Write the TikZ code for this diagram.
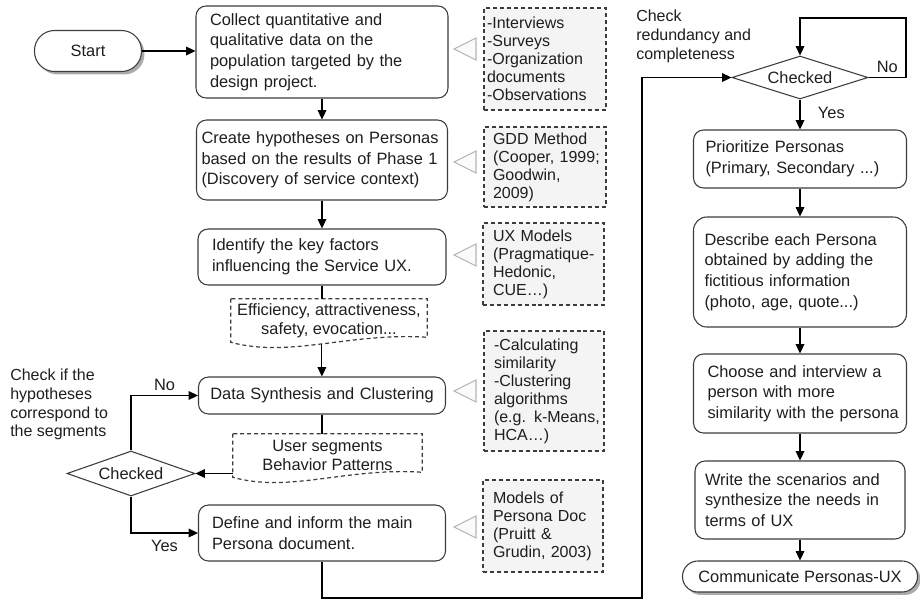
\documentclass[tikz,border=0pt]{standalone}
\usepackage{fontspec}
\setmainfont{Liberation Sans}
\usetikzlibrary{arrows.meta,shapes.geometric,shadows,calc}
\newdimen\pxu \pxu=0.75pt
\definecolor{ink}{HTML}{1E1E1E}
\definecolor{edge}{HTML}{3C3C3C}
\definecolor{notefill}{HTML}{F4F4F4}
\definecolor{tipgrey}{HTML}{B4B4B4}
\definecolor{tipfill}{HTML}{FAFAFA}
\begin{document}
\begin{tikzpicture}[x=0.75pt,y=-0.75pt,
  every node/.style={text=ink},
  mainfont/.style={font=\fontsize{12.3pt}{15.4pt}\selectfont},
  stepbox/.style={mainfont, draw=edge, line width=0.8pt, rounded corners=7.5pt, fill=white, align=left, inner xsep=0pt, inner ysep=2pt},
  notebox/.style={font=\fontsize{12pt}{13.5pt}\selectfont, draw=edge, line width=0.9pt, dash pattern=on 3pt off 2.2pt, fill=notefill, align=left, inner xsep=0pt},
  docnode/.style={font=\fontsize{12.3pt}{14pt}\selectfont, align=center, inner sep=0pt},
  docline/.style={draw=edge, line width=0.9pt, dash pattern=on 3pt off 2.2pt},
  terminal/.style={mainfont, draw=edge, line width=0.8pt, fill=white, drop shadow={shadow xshift=2.2pt, shadow yshift=-2.2pt, fill=black!60, opacity=0.55}},
  decision/.style={mainfont, diamond, draw=edge, line width=0.8pt, aspect=2.8, inner sep=0pt, fill=white},
  flow/.style={draw=black, line width=0.9pt, -{Triangle[length=7pt,width=6.5pt]}},
  link/.style={draw=black, line width=0.9pt},
  pointer/.style={draw=tipgrey, fill=tipfill, line width=0.8pt, line join=miter},
  remark/.style={font=\fontsize{12pt}{14pt}\selectfont, align=left, inner sep=0pt, anchor=north west},
  tag/.style={mainfont, inner sep=3pt},
]
\useasboundingbox (0,0) rectangle (920,600);

% ---------- left column ----------
\node[terminal, rounded corners=15pt, minimum width=107\pxu, minimum height=41\pxu] (start) at (88,51) {Start};
\node[stepbox, minimum width=252\pxu, minimum height=92\pxu, text width=224\pxu] (b1) at (322,52)
  {Collect quantitative and\\qualitative data on the\\population targeted by the\\design project.};
\node[stepbox, minimum width=251\pxu, minimum height=80\pxu, text width=241\pxu] (b2) at (322,160)
  {\mbox{Create hypotheses on Personas}\\based on the results of Phase 1\\(Discovery of service context)};
\node[stepbox, minimum width=248\pxu, minimum height=56\pxu, text width=220\pxu] (b3) at (322,257)
  {Identify the key factors\\influencing the Service UX.};
\node[docnode, minimum width=196\pxu, minimum height=43\pxu] (d1) at (329,320.5)
  {Efficiency, attractiveness,\\safety, evocation...};
\node[stepbox, align=center, minimum width=247\pxu, minimum height=37\pxu, text width=230\pxu] (b4) at (322,395.5)
  {Data Synthesis and Clustering};
\node[docnode, minimum width=189\pxu, minimum height=43\pxu] (d2) at (327.5,455.5)
  {User segments\\Behavior Patterns};
\node[decision, minimum width=128\pxu, minimum height=45\pxu] (dia1) at (131,473.5) {Checked};
\node[stepbox, minimum width=247\pxu, minimum height=56\pxu, text width=220\pxu] (b5) at (322,533)
  {Define and inform the main\\Persona document.};

% document outlines with wavy bottom edge
\draw[docline] (d1.north west) -- (d1.south west)
  .. controls +(59,16) and +(-78,-5) .. ($(d1.south east)+(0,-5)$) coordinate[pos=0.5] (d1tip)
  -- (d1.north east) -- cycle;
\draw[docline] (d2.north west) -- (d2.south west)
  .. controls +(57,16) and +(-76,-5) .. ($(d2.south east)+(0,-5)$)
  -- (d2.north east) -- cycle;

% ---------- method notes ----------
\node[notebox, minimum width=122\pxu, minimum height=102\pxu, text width=116\pxu] (g1) at (545,59)
  {-Interviews\\-Surveys\\-Organization\\documents\\-Observations};
\node[notebox, minimum width=122\pxu, minimum height=80\pxu, text width=104\pxu] (g2) at (545,167)
  {GDD Method\\\mbox{(Cooper, 1999;}\\Goodwin,\\2009)};
\node[notebox, minimum width=121\pxu, minimum height=82\pxu, text width=101\pxu] (g3) at (543.5,264)
  {UX Models\\\mbox{(Pragmatique-}\\Hedonic,\\CUE…)};
\node[notebox, minimum width=120\pxu, minimum height=120\pxu, text width=100\pxu] (g4) at (544,391)
  {-Calculating\\similarity\\-Clustering\\algorithms\\\mbox{(e.g. k-Means,}\\HCA…)};
\node[notebox, minimum width=120\pxu, minimum height=92\pxu, text width=100\pxu] (g5) at (543,526)
  {Models of\\Persona Doc\\(Pruitt \&\\\mbox{Grudin, 2003)}};

\foreach \ty in {49,162,255,391,527}
  \draw[pointer] (476,\ty-11) -- (454,\ty) -- (476,\ty+11) -- cycle;

% ---------- right column ----------
\node[decision, minimum width=136\pxu, minimum height=43\pxu] (dia2) at (800,77.5) {Checked};
\node[stepbox, minimum width=213\pxu, minimum height=58\pxu, text width=189\pxu] (r1) at (800,159)
  {Prioritize Personas\\(Primary, Secondary ...)};
\node[stepbox, rounded corners=10pt, minimum width=213\pxu, minimum height=110\pxu, text width=191\pxu] (r2) at (800,272)
  {Describe each Persona\\obtained by adding the\\fictitious information\\(photo, age, quote...)};
\node[stepbox, minimum width=213\pxu, minimum height=79\pxu, text width=185\pxu] (r3) at (800,393.5)
  {Choose and interview a\\person with more\\\mbox{similarity with the persona}};
\node[stepbox, minimum width=210\pxu, minimum height=78\pxu, text width=190\pxu] (r4) at (800,500)
  {Write the scenarios and\\synthesize the needs in\\terms of UX};
\node[terminal, rounded corners=11.5pt, minimum width=235\pxu, minimum height=31\pxu] (finish) at (800,576.5)
  {Communicate Personas-UX};

% ---------- side remarks ----------
\node[remark] (hyp) at (10,369) {Check if the\\hypotheses\\correspond to\\the segments};
\node[remark] (red) at (636,10) {Check\\redundancy and\\completeness};

% ---------- connectors ----------
\draw[flow] (start) -- (start -| b1.west);
\draw[flow] (b1) -- (b2);
\draw[flow] (b2) -- (b3);
\draw[link] (b3.south) -- (b3.south |- d1.north);
\draw[flow] (d1tip) -- (d1tip |- b4.north);
\draw[link] (b4.south) -- (b4.south |- d2.north);
\draw[flow] (d2.west |- dia1.east) -- (dia1.east);
\draw[flow] (dia1.north) |- node[pos=0.75, above, tag] {No} (b4.west);
\draw[flow] (dia1.south) |- node[pos=0.75, below=2pt, tag] {Yes} (b5.west);

\coordinate (turnA) at (642,598);
\draw[flow] (b5.south) |- (turnA) |- (dia2.west);
\coordinate (turnB) at (906,18);
\draw[flow] (dia2.east) -| node[pos=0.25, above, tag] {No} (turnB) -| (dia2.north);
\draw[flow] (dia2.south) -- node[pos=0.45, right=10pt, tag] {Yes} (r1.north);
\draw[flow] (r1) -- (r2);
\draw[flow] (r2) -- (r3);
\draw[flow] (r3) -- (r4);
\draw[flow] (r4) -- (finish);
\end{tikzpicture}
\end{document}
